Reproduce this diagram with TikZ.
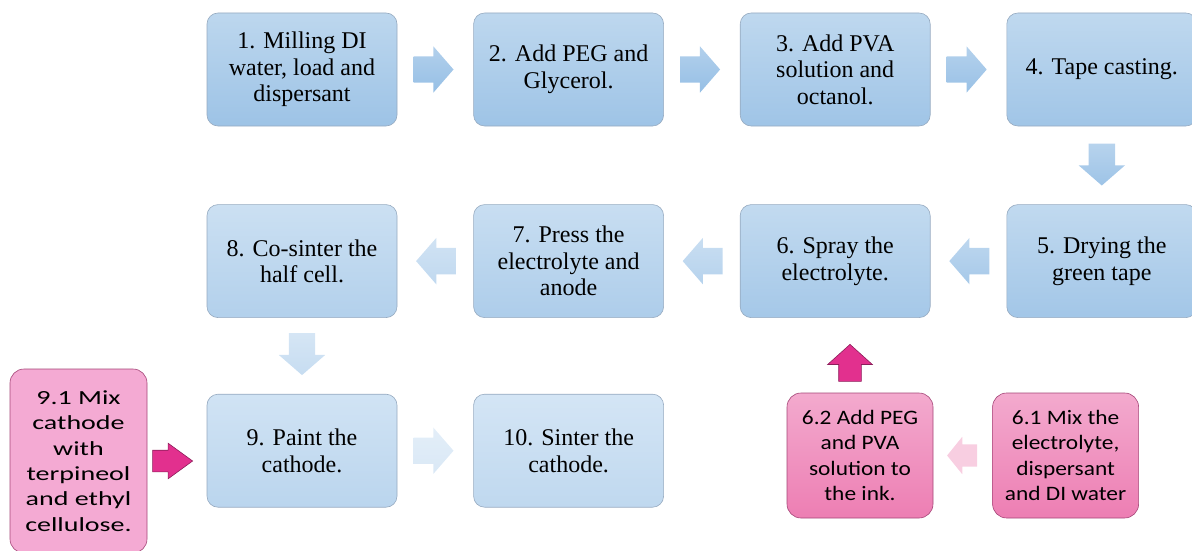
\documentclass[tikz,border=0pt]{standalone}
\usepackage{fontspec}
\setmainfont{Liberation Serif}
\newfontfamily\calibri[FakeStretch=1.14]{Carlito}
\newfontfamily\calibriwide[FakeStretch=1.4]{Carlito}
\usetikzlibrary{positioning,shapes.arrows}
\definecolor{bluetop}{RGB}{189,215,238}
\definecolor{bluebot}{RGB}{157,195,230}
\definecolor{paletop}{RGB}{215,231,246}
\definecolor{palebot}{RGB}{196,219,240}
\definecolor{boxline}{RGB}{150,170,192}
\definecolor{arrtop}{RGB}{178,208,236}
\definecolor{arrbot}{RGB}{150,191,229}
\definecolor{inktop}{RGB}{243,170,206}
\definecolor{inkbot}{RGB}{237,126,179}
\definecolor{inkflat}{RGB}{244,170,211}
\definecolor{inkline}{RGB}{165,70,120}
\definecolor{inkarrow}{RGB}{226,48,142}
\definecolor{inkdark}{RGB}{140,30,90}
\definecolor{inkpale}{RGB}{248,206,225}

\begin{document}
\begin{tikzpicture}[node distance=76pt]
\useasboundingbox (0,0) rectangle (1192pt,-551pt);
\clip (0,0) rectangle (1192pt,-551pt);
\tikzstyle{block}=[rectangle,draw=boxline,line width=0.6pt,rounded corners=11pt,align=center,minimum width=190pt,minimum height=113pt,font=\fontsize{24}{26.5}\selectfont]
\tikzset{stage/.style={block,top color=bluetop!#1!paletop,bottom color=bluebot!#1!palebot}}
\tikzstyle{inkbox}=[rectangle,draw=inkline,line width=0.6pt,rounded corners=14pt,align=center,minimum width=146pt,minimum height=125pt,font=\calibri\fontsize{20.5}{25.5}\selectfont,top color=inktop,bottom color=inkbot]
\tikzset{flow/.style={single arrow,draw=none,inner xsep=0pt,inner ysep=13pt,minimum height=40pt,single arrow head extend=10pt,single arrow tip angle=98,top color=arrtop!#1!white,bottom color=arrbot!#1!white}}
\tikzset{flowdown/.style={flow=#1,inner xsep=13pt,inner ysep=0pt,minimum height=42pt,shape border rotate=270}}
\tikzstyle{inkflow}=[single arrow,draw=inkdark,line width=0.6pt,fill=inkarrow]

% main line of the process
\node[stage=100] (s1) at (302pt,-69.5pt) {1. Milling DI\\water, load and\\dispersant};
\node[stage=97,right=of s1] (s2) {2. Add PEG and\\Glycerol.};
\node[stage=94,right=of s2] (s3) {3. Add PVA\\solution and\\octanol.};
\node[stage=91,right=of s3] (s4) {4. Tape casting.};
\node[stage=86,below=78pt of s4] (s5) {5. Drying the\\green tape};
\node[stage=80,left=of s5] (s6) {6. Spray the\\electrolyte.};
\node[stage=58,left=of s6] (s7) {7. Press the\\electrolyte and\\anode};
\node[stage=45,left=of s7] (s8) {8. Co-sinter the\\half cell.};
\node[stage=25,below=76pt of s8] (s9) {9. Paint the\\cathode.};
\node[stage=12,right=of s9] (s10) {10. Sinter the\\cathode.};

% side steps
\node[inkbox] (s62) at (860pt,-455.5pt) {6.2 Add PEG\\and PVA\\solution to\\the ink.};
\node[inkbox,right=59pt of s62] (s61) {6.1 Mix the\\electrolyte,\\dispersant\\and DI water};
\node[inkbox,top color=inkflat,bottom color=inkflat,minimum width=137pt,minimum height=184pt,font=\calibriwide\fontsize{20}{25.3}\selectfont] (s91) at (78.5pt,-461pt) {9.1 Mix\\cathode\\with\\terpineol\\and ethyl\\cellulose.};

% block arrows
\node[flow=100,right=16pt of s1] (a12) {};
\node[flow=100,right=16pt of s2] (a23) {};
\node[flow=97,right=16pt of s3] (a34) {};
\node[flowdown=93,below=17pt of s4] (a45) {};
\node[flow=85,shape border rotate=180,left=17pt of s5] (a56) {};
\node[flow=70,shape border rotate=180,left=17pt of s6] (a67) {};
\node[flow=60,shape border rotate=180,left=17pt of s7] (a78) {};
\node[flowdown=54,below=15pt of s8] (a89) {};
\node[flow=36,right=16pt of s9] (a910) {};
\node[inkflow,inner xsep=0pt,inner ysep=10.5pt,single arrow head extend=7pt,minimum height=40pt,single arrow tip angle=72,right=5pt of s91] (a919) {};
\node[inkflow,inner xsep=11pt,inner ysep=0pt,single arrow head extend=11pt,minimum height=37pt,single arrow tip angle=96,shape border rotate=90,above=11pt of s62,xshift=-10pt] (a626) {};
\node[single arrow,draw=none,fill=inkpale,inner xsep=0pt,inner ysep=11pt,single arrow head extend=7.5pt,minimum height=30pt,single arrow tip angle=102,shape border rotate=180,left=15pt of s61] (a6162) {};
\end{tikzpicture}
\end{document}
